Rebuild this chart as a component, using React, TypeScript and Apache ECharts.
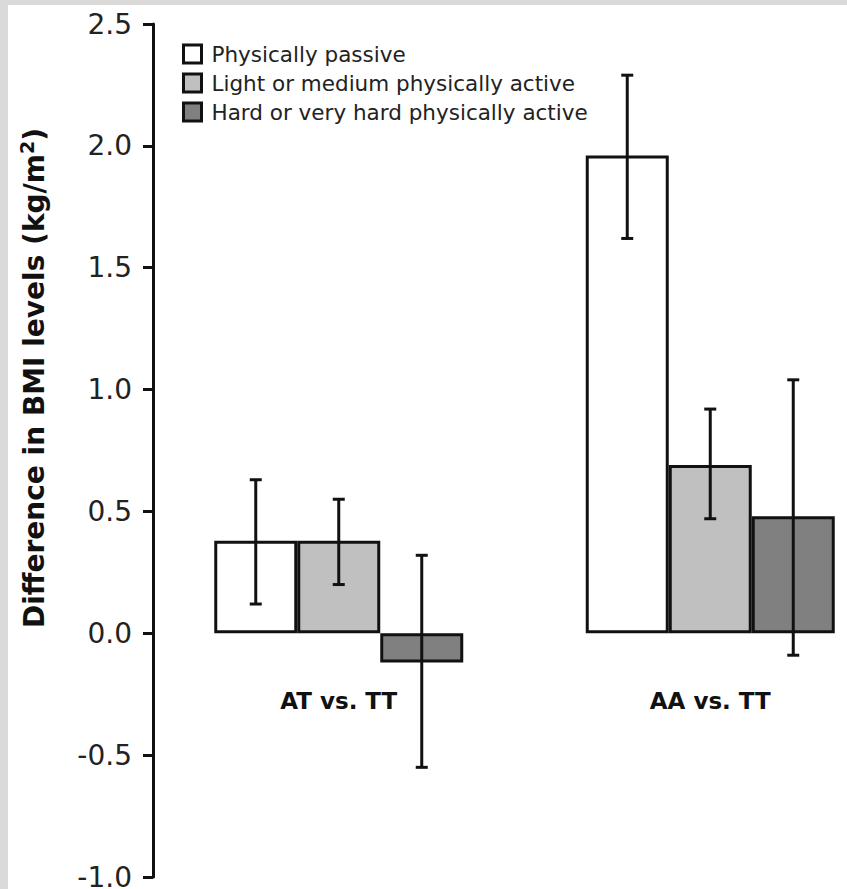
import React, { useEffect, useRef } from "react";
import * as echarts from "echarts";

// Genotype comparisons on the category axis
const categories = ["AT vs. TT", "AA vs. TT"];

// Physical activity groups
const groupNames = [
  "Physically passive",
  "Light or medium physically active",
  "Hard or very hard physically active",
];

// Mean difference in BMI (kg/m²) per comparison
const passive = [0.38, 1.96];
const lightMedium = [0.38, 0.69];
const hardVeryHard = [-0.12, 0.48];

// 95% confidence limits
const passiveLow = [0.12, 1.62];
const passiveHigh = [0.63, 2.29];
const lightMediumLow = [0.2, 0.47];
const lightMediumHigh = [0.55, 0.92];
const hardVeryHardLow = [-0.55, -0.09];
const hardVeryHardHigh = [0.32, 1.04];

// Y axis range and step
const yMin = -1.0;
const yMax = 2.5;
const yStep = 0.5;

const fills = ["#ffffff", "#c0c0c0", "#808080"];
const INK = "#111111";
const FONT = "DejaVu Sans, Verdana, sans-serif";
const BAR_W = 83;
const GRID_H = 853;

export default function App() {
  const ref = useRef<HTMLDivElement>(null);

  useEffect(() => {
    if (!ref.current) return;
    const chart = echarts.init(ref.current, undefined, { renderer: "svg" });

    const means = [passive, lightMedium, hardVeryHard];
    const lows = [passiveLow, lightMediumLow, hardVeryHardLow];
    const highs = [passiveHigh, lightMediumHigh, hardVeryHardHigh];

    // Category labels sit below the zero line, so lift the x axis up to y = 0
    const zeroOffset = -((0 - yMin) / (yMax - yMin)) * GRID_H;

    const barSeries = groupNames.map((name, i) => ({
      name,
      type: "bar",
      data: means[i],
      barWidth: BAR_W,
      barGap: "0%",
      itemStyle: { color: fills[i], borderColor: INK, borderWidth: 3 },
      z: 2,
    }));

    const errorSeries = groupNames.map((_, i) => ({
      type: "custom",
      data: categories.map((_c, k) => [k, lows[i][k], highs[i][k]]),
      encode: { x: 0, y: [1, 2] },
      z: 5,
      renderItem: (_params: any, api: any) => {
        const k = api.value(0);
        const lo = api.coord([k, api.value(1)]);
        const hi = api.coord([k, api.value(2)]);
        const cx = lo[0] + (i - 1) * BAR_W;
        const cap = 6;
        const style = { stroke: INK, lineWidth: 3 };
        return {
          type: "group",
          children: [
            { type: "line", shape: { x1: cx, y1: lo[1], x2: cx, y2: hi[1] }, style },
            { type: "line", shape: { x1: cx - cap, y1: hi[1], x2: cx + cap, y2: hi[1] }, style },
            { type: "line", shape: { x1: cx - cap, y1: lo[1], x2: cx + cap, y2: lo[1] }, style },
          ],
        };
      },
    }));

    chart.setOption({
      animation: false,
      backgroundColor: "#ffffff",
      textStyle: { fontFamily: FONT },
      grid: { left: 153, top: 24, width: 743, height: GRID_H, outerBoundsMode: "none", containLabel: false },
      legend: {
        data: groupNames,
        orient: "vertical",
        left: 182,
        top: 43,
        padding: 0,
        itemWidth: 18,
        itemHeight: 18,
        itemGap: 7,
        icon: "rect",
        itemStyle: { borderColor: INK, borderWidth: 3 },
        textStyle: {
          fontSize: 21.5,
          lineHeight: 20,
          color: "#222",
          fontFamily: FONT,
          padding: [0, 0, 0, 5],
        },
      },
      xAxis: {
        type: "category",
        data: categories,
        position: "bottom",
        offset: zeroOffset,
        axisLine: { show: false },
        axisTick: { show: false },
        axisLabel: {
          margin: 56,
          fontSize: 23,
          fontWeight: "bold",
          color: "#111",
          fontFamily: FONT,
        },
      },
      yAxis: {
        type: "value",
        min: yMin,
        max: yMax,
        interval: yStep,
        splitLine: { show: false },
        axisLine: { show: true, lineStyle: { color: INK, width: 3 } },
        axisTick: { show: true, length: 10, lineStyle: { color: INK, width: 3 } },
        axisLabel: {
          margin: 21,
          fontSize: 28,
          lineHeight: 20,
          color: "#222",
          fontFamily: FONT,
          formatter: (v: number) => v.toFixed(1),
        },
      },
      graphic: [
        { type: "rect", shape: { x: 0, y: 0, width: 8, height: 889 }, style: { fill: "#dadada" }, silent: true },
        { type: "rect", shape: { x: 0, y: 0, width: 847, height: 5 }, style: { fill: "#dadada" }, silent: true },
        {
          type: "text",
          x: 34,
          y: 378,
          rotation: Math.PI / 2,
          style: {
            text: "{a|Difference in BMI levels (kg/m}{s|2}{a|)}",
            align: "center",
            verticalAlign: "middle",
            rich: {
              a: { fontSize: 28, fontWeight: "bold", fill: "#111", fontFamily: FONT, lineHeight: 34 },
              s: { fontSize: 19, fontWeight: "bold", fill: "#111", fontFamily: FONT, verticalAlign: "top", lineHeight: 34 },
            },
          },
        },
      ],
      series: [...barSeries, ...errorSeries],
    });

    return () => chart.dispose();
  }, []);

  return (
    <div
      ref={ref}
      style={{ position: "fixed", left: 0, top: 0, width: 847, height: 889 }}
    />
  );
}
